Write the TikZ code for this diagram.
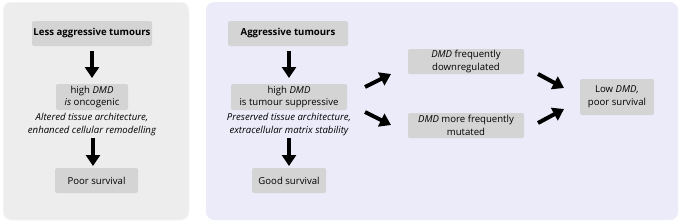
\documentclass[tikz,border=0pt]{standalone}
\usepackage{fontspec}
\setmainfont{Open Sans}
\usetikzlibrary{arrows.meta}
\definecolor{leftbg}{HTML}{EDEDED}
\definecolor{rightbg}{HTML}{EBEBFA}
\definecolor{boxgray}{HTML}{D4D4D4}
\tikzset{
  panel/.style={rounded corners=8pt},
  gbox/.style={fill=boxgray, rounded corners=2pt, inner sep=0pt, align=center,
    font=\fontsize{9.6}{12.8}\selectfont},
  note/.style={inner sep=0pt, align=center, font=\fontsize{9.6}{12.8}\selectfont\itshape},
  bigarrow/.style={line width=4pt, -{Triangle[width=14pt,length=11pt]}},
}
\begin{document}
\begin{tikzpicture}[x=1pt,y=-1pt]
\useasboundingbox (0,0) rectangle (680,223);
\fill[panel, leftbg, draw=white!60!leftbg, line width=1pt] (3,2) rectangle (189,220);
\fill[panel, rightbg] (206,2) rectangle (678,220);
% left panel
\node[gbox, minimum width=120pt, minimum height=25pt, font=\fontsize{9.6}{12.8}\selectfont\bfseries] (lat) at (92,33.5) {Less aggressive tumours};
\node[gbox, minimum width=72pt, minimum height=26pt] (lhigh) at (92,97) {high \textit{DMD}\\\textit{is} oncogenic};
\node[note] (lnote) at (92,124.5) {Altered tissue architecture,\\enhanced cellular remodelling};
\node[gbox, minimum width=83pt, minimum height=25pt] (lpoor) at (96.5,180.5) {Poor survival};
\coordinate (la1) at (92,51);
\coordinate (la2) at (92,78);
\coordinate (lb1) at (93,138);
\coordinate (lb2) at (93,166);
\draw[bigarrow] (la1) -- (la2);
\draw[bigarrow] (lb1) -- (lb2);
% right panel
\node[gbox, minimum width=120pt, minimum height=25pt, font=\fontsize{9.6}{12.8}\selectfont\bfseries] (rat) at (288,33.5) {Aggressive tumours};
\node[gbox, minimum width=116pt, minimum height=26pt] (rhigh) at (289,97) {high \textit{DMD}\\is tumour suppressive};
\node[note] (rnote) at (289,124.5) {Preserved tissue architecture,\\extracellular matrix stability};
\node[gbox, minimum width=74pt, minimum height=25pt] (rgood) at (289,180.5) {Good survival};
\coordinate (ra1) at (289,51);
\coordinate (ra2) at (289,78);
\coordinate (rb1) at (289,138);
\coordinate (rb2) at (289,166);
\draw[bigarrow] (ra1) -- (ra2);
\draw[bigarrow] (rb1) -- (rb2);
\node[gbox, minimum width=116pt, minimum height=25pt] (down) at (466,61.5) {\textit{DMD} frequently\\downregulated};
\node[gbox, minimum width=116pt, minimum height=25pt] (mut) at (466,125.5) {\textit{DMD} more frequently\\mutated};
\node[gbox, minimum width=74pt, minimum height=36pt] (low) at (617,97) {Low \textit{DMD,}\\poor survival};
\coordinate (d1) at (365,87);
\coordinate (d2) at (391,74);
\coordinate (e1) at (365,112);
\coordinate (e2) at (391,125);
\draw[bigarrow] (d1) -- (d2);
\draw[bigarrow] (e1) -- (e2);
\coordinate (f1) at (538,74);
\coordinate (f2) at (564,88);
\coordinate (g1) at (538,123);
\coordinate (g2) at (564,109);
\draw[bigarrow] (f1) -- (f2);
\draw[bigarrow] (g1) -- (g2);
\end{tikzpicture}
\end{document}
